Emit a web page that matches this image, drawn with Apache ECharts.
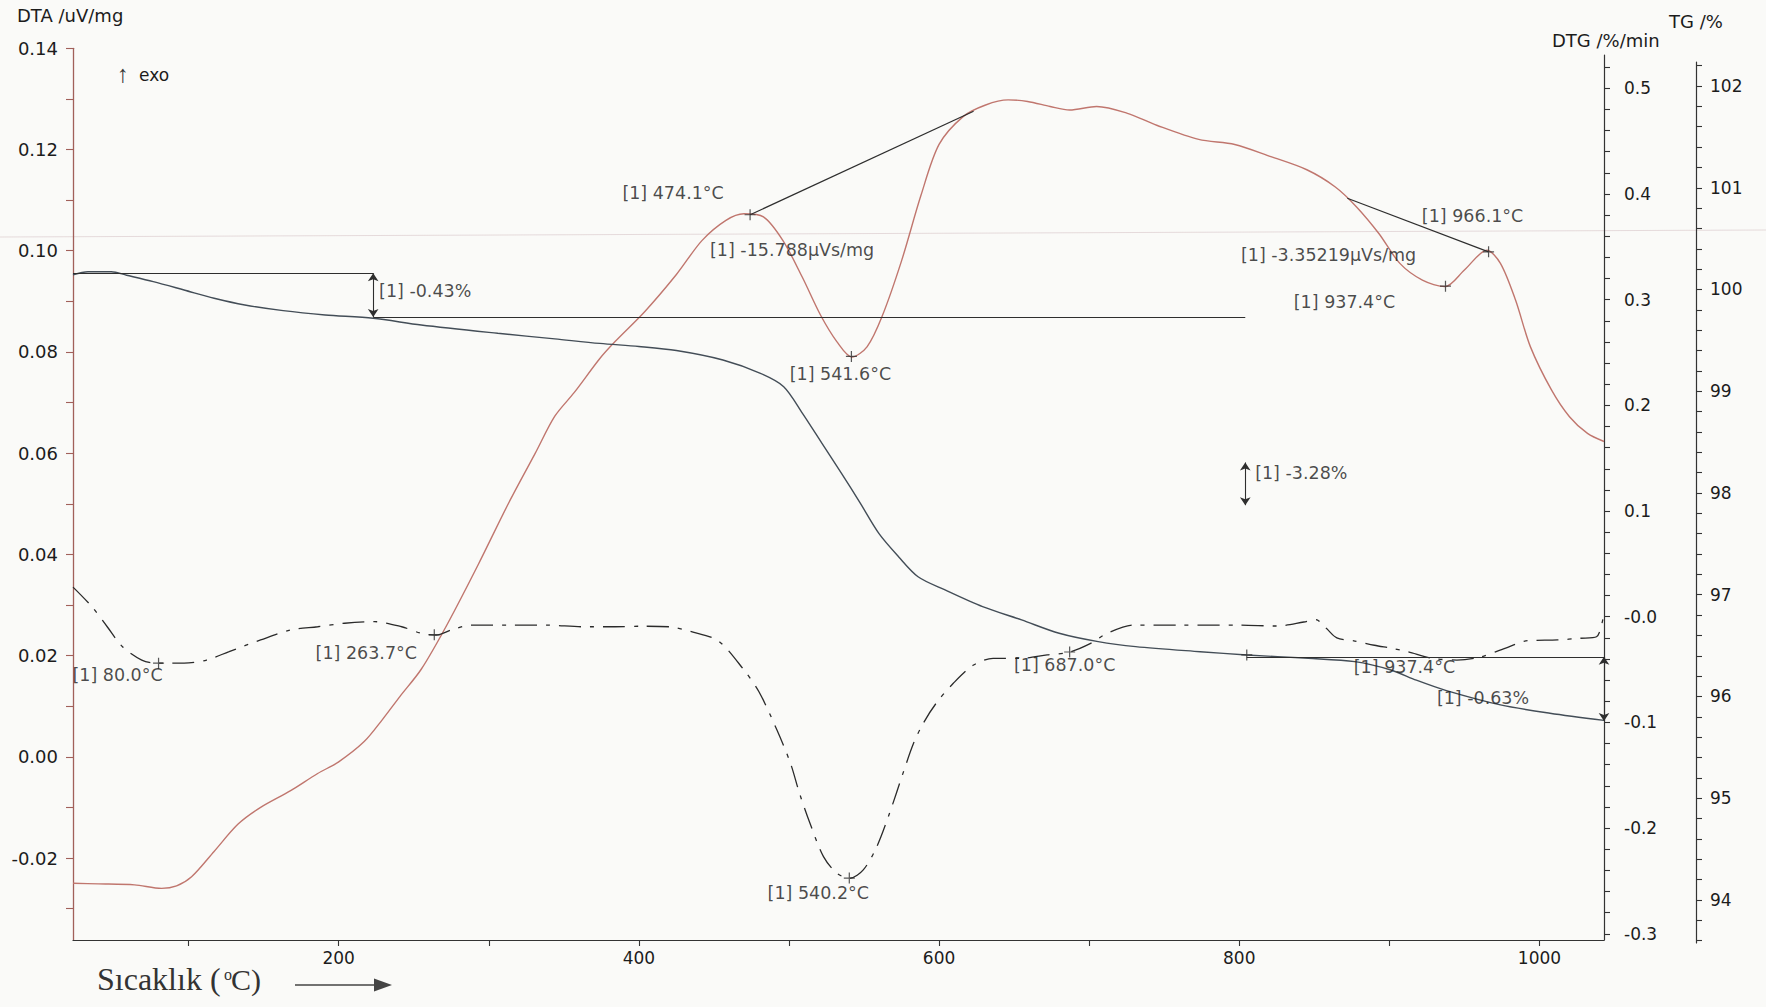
<!DOCTYPE html>
<html>
<head>
<meta charset="utf-8">
<script src="https://cdn.jsdelivr.net/npm/echarts@6/dist/echarts.min.js"></script>
<style>
  html, body { margin: 0; padding: 0; background: #fafaf8; }
  #chart { width: 1766px; height: 1007px; }
</style>
</head>
<body>
<div id="chart"></div>
<script>
// ---- Measured curves (temperature in °C) ----
const tDTA = [23,40,64,82,92,102,117,133,148,168,186,200,217,229,241,255,272,293,313,331,344,357,374,384,404,425,442,458,470,483,496,509,521,532,542,552,562,575,588,600,616,631,646,659,674,687,705,725,745,773,797,821,845,864,878,893,907,922,937,950,965,974,984,994,1008,1020,1032,1043];
const vDTA = [-0.0250,-0.0251,-0.0253,-0.0260,-0.0255,-0.0237,-0.0187,-0.0133,-0.0100,-0.0067,-0.0033,-0.0010,0.0030,0.0073,0.0120,0.0173,0.0260,0.0380,0.0500,0.0600,0.0673,0.0720,0.0787,0.0820,0.0880,0.0953,0.1020,0.1060,0.1073,0.1067,0.1020,0.0947,0.0873,0.0820,0.0790,0.0810,0.0870,0.0980,0.1110,0.1210,0.1265,0.1288,0.1298,0.1295,0.1285,0.1278,0.1285,0.1272,0.1248,0.1220,0.1210,0.1186,0.1160,0.1126,0.1087,0.1034,0.0975,0.0942,0.0929,0.0962,0.1001,0.0975,0.0903,0.0810,0.0725,0.0672,0.0639,0.0623];

const tDTG = [23,35.6,45.8,56,68.8,79,97,112,127,148,168,186,204,224,242,255,265,275,288,313,339,362,384,402,420,435,453,470,480,492,501,507,514,523,532,540.5,549.5,558.5,567,576,583,589.5,598,609.5,623,636,654,672,687,701,712,730,760,800,825,843,851,858,865,877,890,902,912,929,945,960,977,992,1012,1027,1038,1043];
const vDTG = [0.028,0.0095,-0.0095,-0.0284,-0.041,-0.044,-0.044,-0.041,-0.033,-0.022,-0.0126,-0.0095,-0.0062,-0.0047,-0.0095,-0.0157,-0.0173,-0.0126,-0.0079,-0.0079,-0.0079,-0.0095,-0.0095,-0.009,-0.0095,-0.0142,-0.023,-0.0504,-0.071,-0.1072,-0.1387,-0.167,-0.1955,-0.227,-0.2428,-0.2475,-0.2396,-0.2176,-0.186,-0.148,-0.1198,-0.1008,-0.082,-0.063,-0.0457,-0.0394,-0.0394,-0.0362,-0.0334,-0.0252,-0.0157,-0.0079,-0.0079,-0.0079,-0.0088,-0.005,-0.0028,-0.011,-0.02,-0.023,-0.027,-0.030,-0.033,-0.0394,-0.041,-0.0384,-0.030,-0.0227,-0.022,-0.0204,-0.019,0.004];

const tTG = [23,33,48.5,58.7,76.5,97,117,137.5,163,191,223,255,306,344,374,400,425,456,481,496.5,509,522,535,547.5,560,573,586,604,629,655,680,706,731,774,805,846,877,901,918,937.5,974,1007,1043];
const vTG = [100.143,100.175,100.175,100.140,100.077,99.995,99.914,99.848,99.792,99.750,99.717,99.651,99.570,99.515,99.470,99.440,99.400,99.307,99.176,99.045,98.783,98.488,98.193,97.900,97.600,97.374,97.177,97.047,96.883,96.752,96.621,96.539,96.490,96.440,96.408,96.375,96.342,96.260,96.160,96.060,95.917,95.835,95.765];

// ---- Evaluated events ----
const dtaEventTemps = [474.1, 541.6, 937.4, 966.1];
const dtaAreaTexts = ['[1] -15.788µVs/mg', '[1] -3.35219µVs/mg'];
const dtaAreaEnds = [[474.1, 623], [872, 966.1]];
const dtgEventTemps = [80.0, 263.7, 540.2, 687.0, 937.4];
const tgStepPercents = [-0.43, -3.28, -0.63];
const tgStepTemps = [223, 804, 1043];
const tgStartLevel = 100.16;
const tgLastBaseline = 96.39;
const tgBaselineStart = 805;

// ---- Axis ticks ----
const tempLabelValues = [200, 400, 600, 800, 1000];
const tempLabelTexts = ['200', '400', '600', '800', '1000'];
const dtaLabelValues = [-0.02, 0.00, 0.02, 0.04, 0.06, 0.08, 0.10, 0.12, 0.14];
const dtaLabelTexts = ['-0.02','0.00','0.02','0.04','0.06','0.08','0.10','0.12','0.14'];
const dtgLabelValues = [-0.3, -0.2, -0.1, 0.0, 0.1, 0.2, 0.3, 0.4, 0.5];
const dtgLabelTexts = ['-0.3','-0.2','-0.1','-0.0','0.1','0.2','0.3','0.4','0.5'];
const tgLabelValues = [94, 95, 96, 97, 98, 99, 100, 101, 102];
const tgLabelTexts = ['94','95','96','97','98','99','100','101','102'];

// axis extents (plot edges)
const T_MIN = 23, T_MAX = 1043;
const DTA_MIN = -0.0362, DTA_MAX = 0.1400;
const DTG_MIN = -0.3059, DTG_MAX = 0.5315;
const TG_MIN = 93.577, TG_MAX = 102.236;

// ---- helpers ----
function pairs(ts, vs) { return ts.map((t, i) => [t, vs[i]]); }
function interp(ts, vs, t) {
  if (t <= ts[0]) return vs[0];
  for (let i = 1; i < ts.length; i++) {
    if (t <= ts[i]) {
      const f = (t - ts[i - 1]) / (ts[i] - ts[i - 1]);
      return vs[i - 1] + f * (vs[i] - vs[i - 1]);
    }
  }
  return vs[vs.length - 1];
}
function steps(a, b, s) {
  const out = [];
  for (let k = Math.round(a / s); k * s <= b + 1e-9; k++) out.push(+(k * s).toFixed(6));
  return out;
}
function lookup(values, texts) {
  return v => {
    const i = values.findIndex(x => Math.abs(x - v) < 1e-7);
    return i >= 0 ? texts[i] : '';
  };
}
const degText = t => '[1] ' + t.toFixed(1) + '°C';

// ---- styling ----
const FONT = 'DejaVu Sans';
const INK = '#1c1c1c';
const DTA_COLOR = '#c0766e';
const DTA_AXIS = '#a1605a';
const DTG_COLOR = '#2a2a2a';
const TG_COLOR = '#434d57';
const ANNO = '#2e2e2e';

const labelStyle = { fontFamily: FONT, fontSize: 17.5, color: INK };

// label offsets [dx, dy] from the event point, in px
const dtaEventOffsets = [[-77, -22], [-11, 18], [-101, 16], [-16, -36]];
const dtaAreaOffsets = [[42, 35], [-160, 3]];
const dtgEventOffsets = [[-41, 12], [-68, 18], [-31, 15], [-5, 13], [-41, 8]];
const tgStepOffsets = [[52, -4], [56, -11], [-121, 9]];

const CROSS = 'path://M4.45,0H5.55V4.45H10V5.55H5.55V10H4.45V5.55H0V4.45H4.45Z';

// DTA event markers and labels
const dtaItems = [];
dtaEventTemps.forEach((t, i) => {
  const v = interp(tDTA, vDTA, t);
  dtaItems.push({ value: [t, v], symbol: CROSS, symbolSize: 11 });
  dtaItems.push({ value: [t, v], symbolSize: 0,
    label: { show: true, position: 'inside', offset: dtaEventOffsets[i], formatter: degText(t), ...labelStyle } });
});
// peak-area labels, anchored at the evaluated peak of each area
const areaAnchors = [dtaAreaEnds[0][0], dtaAreaEnds[1][1]];
dtaAreaTexts.forEach((txt, i) => {
  const t = areaAnchors[i];
  dtaItems.push({ value: [t, interp(tDTA, vDTA, t)], symbolSize: 0,
    label: { show: true, position: 'inside', offset: dtaAreaOffsets[i], formatter: txt, ...labelStyle } });
});

// DTG event markers and labels
const dtgItems = [];
dtgEventTemps.forEach((t, i) => {
  const v = interp(tDTG, vDTG, t);
  if (i < 4) dtgItems.push({ value: [t, v], symbol: CROSS, symbolSize: 11 });
  dtgItems.push({ value: [t, v], symbolSize: 0,
    label: { show: true, position: 'inside', offset: dtgEventOffsets[i], formatter: degText(t), ...labelStyle } });
});

// TG step levels
const tgLevel1 = tgStartLevel + tgStepPercents[0];
const tgLevelEnd = tgLastBaseline + tgStepPercents[2];
const tgMid2 = (tgLevel1 + (tgLevel1 + tgStepPercents[1])) / 2;
const stepArrows = [
  [tgStartLevel, tgLevel1],
  [tgMid2 + 0.21, tgMid2 - 0.21],
  [tgLastBaseline, tgLevelEnd]
];
const tgItems = [{ value: [tgBaselineStart, interp(tTG, vTG, tgBaselineStart)], symbol: CROSS, symbolSize: 11 }];
tgStepPercents.forEach((p, i) => {
  const mid = (stepArrows[i][0] + stepArrows[i][1]) / 2;
  tgItems.push({ value: [tgStepTemps[i], mid], symbolSize: 0,
    label: { show: true, position: 'inside', offset: tgStepOffsets[i], formatter: '[1] ' + p.toFixed(2) + '%', ...labelStyle } });
});

const gridL = 73, gridR = 162;

const option = {
  animation: false,
  backgroundColor: '#fafaf8',
  grid: [
    { left: gridL, right: gridR, top: 48.3, bottom: 67 },
    { left: gridL, right: gridR, top: 55, bottom: 67 },
    { left: gridL, right: gridR, top: 62, bottom: 64 }
  ],
  xAxis: [
    { gridIndex: 0, type: 'value', min: T_MIN, max: T_MAX,
      axisLine: { show: true, onZero: false, lineStyle: { color: '#333', width: 1.2 } },
      axisTick: { show: true, customValues: steps(100, 1000, 100), length: 6, lineStyle: { color: '#333', width: 1.1 } },
      axisLabel: { customValues: tempLabelValues, formatter: lookup(tempLabelValues, tempLabelTexts), margin: 9, fontFamily: FONT, fontSize: 17, color: INK },
      splitLine: { show: false } },
    { gridIndex: 1, type: 'value', min: T_MIN, max: T_MAX, show: false },
    { gridIndex: 2, type: 'value', min: T_MIN, max: T_MAX, show: false }
  ],
  yAxis: [
    { gridIndex: 0, type: 'value', position: 'left', min: DTA_MIN, max: DTA_MAX,
      axisLine: { show: true, onZero: false, lineStyle: { color: DTA_AXIS, width: 1.3 } },
      axisTick: { show: true, customValues: steps(-0.03, 0.14, 0.01), length: 7, lineStyle: { color: DTA_AXIS, width: 1.1 } },
      axisLabel: { customValues: dtaLabelValues, formatter: lookup(dtaLabelValues, dtaLabelTexts), margin: 15, fontFamily: FONT, fontSize: 18, color: INK },
      splitLine: { show: false } },
    { gridIndex: 1, type: 'value', position: 'right', min: DTG_MIN, max: DTG_MAX,
      axisLine: { show: true, onZero: false, lineStyle: { color: '#333', width: 1.2 } },
      axisTick: { show: true, customValues: steps(-0.30, 0.52, 0.02), length: 6, lineStyle: { color: '#333', width: 1.1 } },
      axisLabel: { customValues: dtgLabelValues, formatter: lookup(dtgLabelValues, dtgLabelTexts), margin: 20, fontFamily: FONT, fontSize: 17, color: INK },
      splitLine: { show: false } },
    { gridIndex: 2, type: 'value', position: 'right', offset: 92, min: TG_MIN, max: TG_MAX,
      axisLine: { show: true, onZero: false, lineStyle: { color: '#333', width: 1.2 } },
      axisTick: { show: true, customValues: steps(93.6, 102.2, 0.2), length: 6, lineStyle: { color: '#333', width: 1.1 } },
      axisLabel: { customValues: tgLabelValues, formatter: lookup(tgLabelValues, tgLabelTexts), margin: 14, fontFamily: FONT, fontSize: 17, color: INK },
      splitLine: { show: false } }
  ],
  series: [
    { type: 'line', name: 'DTA', xAxisIndex: 0, yAxisIndex: 0, data: pairs(tDTA, vDTA),
      showSymbol: false, smooth: 0.3, silent: true,
      lineStyle: { color: DTA_COLOR, width: 1.4 },
      markLine: { silent: true, symbol: 'none', label: { show: false },
        lineStyle: { color: ANNO, width: 1.2, type: 'solid' },
        data: dtaAreaEnds.map(([a, b]) => [
          { coord: [a, interp(tDTA, vDTA, a)] },
          { coord: [b, interp(tDTA, vDTA, b)] }
        ]) } },
    { type: 'line', name: 'DTG', xAxisIndex: 1, yAxisIndex: 1, data: pairs(tDTG, vDTG),
      showSymbol: false, smooth: 0.3, silent: true,
      lineStyle: { color: DTG_COLOR, width: 1.3, type: [22, 9, 4, 9] } },
    { type: 'line', name: 'TG', xAxisIndex: 2, yAxisIndex: 2, data: pairs(tTG, vTG),
      showSymbol: false, smooth: 0.3, silent: true,
      lineStyle: { color: TG_COLOR, width: 1.4 },
      markLine: { silent: true, symbol: 'none', label: { show: false },
        lineStyle: { color: ANNO, width: 1.2, type: 'solid' },
        data: [
          [{ coord: [T_MIN, tgStartLevel] }, { coord: [tgStepTemps[0], tgStartLevel] }],
          [{ coord: [tgStepTemps[0], tgLevel1] }, { coord: [tgStepTemps[1], tgLevel1] }],
          [{ coord: [tgBaselineStart, tgLastBaseline] }, { coord: [T_MAX, tgLastBaseline] }]
        ] } },
    { type: 'scatter', xAxisIndex: 0, yAxisIndex: 0, data: dtaItems, silent: true, z: 5,
      itemStyle: { color: ANNO } },
    { type: 'scatter', xAxisIndex: 1, yAxisIndex: 1, data: dtgItems, silent: true, z: 5,
      itemStyle: { color: ANNO } },
    { type: 'scatter', xAxisIndex: 2, yAxisIndex: 2, data: tgItems, silent: true, z: 5,
      itemStyle: { color: ANNO },
      markLine: { silent: true, symbol: ['arrow', 'arrow'], symbolSize: 8, label: { show: false },
        lineStyle: { color: ANNO, width: 1.1, type: 'solid' },
        data: stepArrows.map((lv, i) => [
          { coord: [tgStepTemps[i], lv[0]] }, { coord: [tgStepTemps[i], lv[1]] }
        ]) } }
  ],
  graphic: [
    { type: 'line', silent: true, z: -10, shape: { x1: 0, y1: 237, x2: 1766, y2: 230 },
      style: { stroke: 'rgba(205,180,185,0.45)', lineWidth: 1 } },
    { type: 'text', x: 17, y: 15, silent: true,
      style: { text: 'DTA /uV/mg', fontFamily: FONT, fontSize: 18, fill: INK, align: 'left', verticalAlign: 'middle' } },
    { type: 'text', x: 1552, y: 40, silent: true,
      style: { text: 'DTG /%/min', fontFamily: FONT, fontSize: 18, fill: INK, align: 'left', verticalAlign: 'middle' } },
    { type: 'text', x: 1669, y: 21, silent: true,
      style: { text: 'TG /%', fontFamily: FONT, fontSize: 18, fill: INK, align: 'left', verticalAlign: 'middle' } },
    { type: 'text', x: 123, y: 73, silent: true,
      style: { text: '↑', fontFamily: 'Liberation Sans', fontSize: 24, fill: '#333', align: 'center', verticalAlign: 'middle' } },
    { type: 'text', x: 139, y: 75, silent: true,
      style: { text: 'exo', fontFamily: FONT, fontSize: 17, fill: INK, align: 'left', verticalAlign: 'middle' } },
    { type: 'text', x: 97, y: 979, silent: true,
      style: { text: 'Sıcaklık (', fontFamily: 'Liberation Serif', fontSize: 32, fill: '#333', align: 'left', verticalAlign: 'middle' } },
    { type: 'text', x: 224, y: 974, silent: true,
      style: { text: 'o', fontFamily: 'Liberation Serif', fontSize: 16, fill: '#333', align: 'left', verticalAlign: 'middle' } },
    { type: 'text', x: 231, y: 979, silent: true,
      style: { text: 'C)', fontFamily: 'Liberation Serif', fontSize: 30, fill: '#333', align: 'left', verticalAlign: 'middle' } },
    { type: 'line', silent: true, shape: { x1: 295, y1: 985, x2: 376, y2: 985 },
      style: { stroke: '#444', lineWidth: 1.6 } },
    { type: 'polygon', silent: true, shape: { points: [[374, 978.5], [392, 985], [374, 991.5]] },
      style: { fill: '#444' } }
  ]
};

const chart = echarts.init(document.getElementById('chart'), null, { renderer: 'svg' });
chart.setOption(option);
</script>
</body>
</html>
